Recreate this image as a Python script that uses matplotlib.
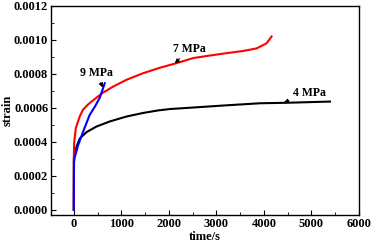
import numpy as np
import matplotlib.pyplot as plt
from matplotlib.ticker import MultipleLocator

plt.rcParams['font.family'] = ['Liberation Serif', 'DejaVu Serif']
plt.rcParams['font.weight'] = 'bold'

# 4 MPa (black)
t4 = [0, 2, 10, 57, 126, 267, 477, 758, 1109, 1459, 1775, 2021, 2512, 3215, 3916, 4477, 5390]
s4 = [0, 0.00030, 0.00033, 0.00037, 0.00042, 0.000457, 0.00049, 0.00052, 0.000549, 0.00057, 0.000585, 0.000593, 0.000602, 0.000615, 0.000627, 0.00063, 0.000637]
# 7 MPa (red)
t7 = [0, 2, 10, 42, 126, 196, 300, 477, 617, 827, 1107, 1459, 1810, 2160, 2512, 2863, 3215, 3566, 3846, 4056, 4161]
s7 = [0, 0.00033, 0.00040, 0.00048, 0.00055, 0.00059, 0.00062, 0.00066, 0.00069, 0.000725, 0.000765, 0.000804, 0.000836, 0.000863, 0.000893, 0.000908, 0.000922, 0.000935, 0.00095, 0.00098, 0.00102]
# 9 MPa (blue)
t9 = [0, 5, 20, 42, 91, 196, 337, 450, 547, 652]
s9 = [0, 0.00028, 0.00031, 0.00033, 0.00038, 0.00046, 0.00056, 0.00061, 0.00066, 0.000745]

fig, ax = plt.subplots(figsize=(3.72, 2.47), dpi=100)
fig.subplots_adjust(left=0.137, right=0.965, top=0.976, bottom=0.13)

ax.plot(t4, s4, color='black', lw=1.5)
ax.plot(t7, s7, color='red', lw=1.5)
ax.plot(t9, s9, color='blue', lw=1.5)

ax.set_xlim(-480, 6000)
ax.set_ylim(-0.00003, 0.0012)
ax.xaxis.set_major_locator(MultipleLocator(1000))
ax.xaxis.set_minor_locator(MultipleLocator(500))
ax.yaxis.set_major_locator(MultipleLocator(0.0002))
ax.yaxis.set_minor_locator(MultipleLocator(0.0001))
ax.yaxis.set_major_formatter(plt.FormatStrFormatter('%.4f'))
ax.tick_params(which='both', direction='in', top=False, right=False, labelsize=9, pad=2)
ax.tick_params(which='major', length=3.5)
ax.tick_params(which='minor', length=2)
ax.set_xlabel('time/s', fontsize=9, fontweight='bold', labelpad=1)
ax.set_ylabel('strain', fontsize=9, fontweight='bold')
ax.yaxis.set_label_coords(-0.12, 0.5)
for sp in ax.spines.values():
    sp.set_linewidth(1.0)

arrow = dict(arrowstyle='-|>', color='black', lw=0.8, mutation_scale=6, shrinkA=1, shrinkB=0)
ax.annotate('7 MPa', xy=(2126, 0.000862), xytext=(2084, 0.000947),
            fontsize=8.5, fontweight='bold', ha='left', va='center', arrowprops=arrow)
ax.annotate('9 MPa', xy=(610, 0.00072), xytext=(126, 0.000806),
            fontsize=8.5, fontweight='bold', ha='left', va='center', arrowprops=arrow)
ax.annotate('4 MPa', xy=(4420, 0.000632), xytext=(4610, 0.000688),
            fontsize=8.5, fontweight='bold', ha='left', va='center', arrowprops=arrow)

fig.savefig('out.png', dpi=100)
